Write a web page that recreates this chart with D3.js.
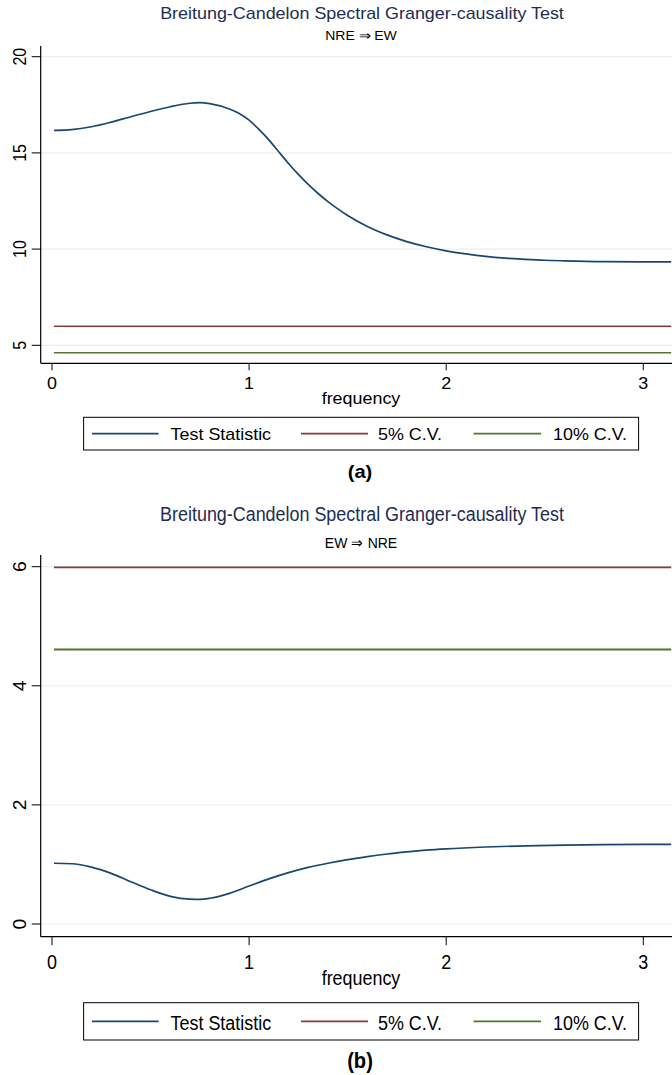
<!DOCTYPE html>
<html>
<head>
<meta charset="utf-8">
<script src="https://cdn.jsdelivr.net/npm/d3@7"></script>
<style>
  html, body { margin: 0; padding: 0; background: #fff; }
  svg { display: block; }
  text { font-family: "Liberation Sans", Arial, sans-serif; }
</style>
</head>
<body>
<svg id="chart" width="672" height="1075"></svg>
<script>
// ---------------- DATA ----------------
const titleText = "Breitung-Candelon Spectral Granger-causality Test";
const subtitleA = "NRE \u21D2 EW";
const subtitleB = "EW \u21D2 NRE";
const xAxisTitle = "frequency";
const legendLabels = ["Test Statistic", "5% C.V.", "10% C.V."];
const captionA = "(a)";
const captionB = "(b)";

const xTicks = [0, 1, 2, 3];
const yTicksA = [5, 10, 15, 20];
const yTicksB = [0, 2, 4, 6];

const cv5 = 5.99;
const cv10 = 4.61;
const freqRange = [0.01, 3.1416];

// Panel (a): NRE => EW test statistic
const freqA = [0.01, 0.1, 0.2, 0.3, 0.4, 0.5, 0.6, 0.7, 0.75, 0.8, 0.9, 0.95, 1.0, 1.05, 1.1, 1.15, 1.2, 1.25, 1.3, 1.35, 1.4, 1.45, 1.5, 1.6, 1.7, 1.8, 1.9, 2.0, 2.1, 2.2, 2.3, 2.4, 2.5, 2.6, 2.8, 3.0, 3.1416];
const statA = [16.17, 16.21, 16.36, 16.6, 16.88, 17.15, 17.4, 17.58, 17.61, 17.56, 17.28, 17.05, 16.7, 16.22, 15.68, 15.06, 14.45, 13.88, 13.36, 12.89, 12.47, 12.09, 11.75, 11.18, 10.74, 10.39, 10.12, 9.91, 9.75, 9.62, 9.53, 9.47, 9.42, 9.39, 9.35, 9.34, 9.34];

// Panel (b): EW => NRE test statistic
const freqB = [0.01, 0.1, 0.2, 0.3, 0.4, 0.5, 0.6, 0.7, 0.75, 0.8, 0.9, 1.0, 1.1, 1.2, 1.3, 1.4, 1.5, 1.6, 1.7, 1.8, 1.9, 2.0, 2.2, 2.4, 2.6, 2.8, 3.0, 3.1416];
const statB = [1.02, 1.012, 0.955, 0.85, 0.71, 0.575, 0.465, 0.418, 0.415, 0.432, 0.515, 0.637, 0.757, 0.862, 0.95, 1.02, 1.08, 1.13, 1.175, 1.21, 1.24, 1.262, 1.293, 1.313, 1.326, 1.333, 1.337, 1.338];

// ---------------- STYLE / LAYOUT ----------------
const colors = { stat: "#1a476f", cv5: "#90353b", cv10: "#55752f", title: "#1e2d53", grid: "#e8eff2" };
const SX = 1.12; // horizontal stretch of the original picture

const panels = [
  {
    freq: freqA, stat: statA, yTicks: yTicksA, subtitle: subtitleA, caption: captionA,
    sy: 1.0,
    yDomain: [5, 20], yRange: [345.3, 56.7], axisTop: 46, axisBottom: 363.3,
    titleY: 19, subY: 39.7, tickLabY: 389, xTitleY: 404.2,
    legTop: 417.3, legBot: 450, legTextY: 440, capY: 477.8
  },
  {
    freq: freqB, stat: statB, yTicks: yTicksB, subtitle: subtitleB, caption: captionB,
    sy: 1.21,
    yDomain: [0, 6], yRange: [924, 566.7], axisTop: 555, axisBottom: 936.7,
    titleY: 520.5, subY: 548, tickLabY: 968.6, xTitleY: 985,
    legTop: 1002.7, legBot: 1040, legTextY: 1030.2, capY: 1068.4
  }
];

const svg = d3.select("#chart");
const x = d3.scaleLinear().domain([0, 3]).range([52, 643.3]);
const plotLeft = 40.7, plotRight = 672;

function hText(g, str, px, py, opts) {
  const t = g.append("text")
    .attr("transform", `translate(${px},${py}) scale(${SX},${opts.sy})`)
    .attr("text-anchor", opts.anchor || "middle")
    .attr("font-size", opts.size || 16)
    .attr("fill", opts.fill || "#000")
    .text(str);
  if (opts.family) t.attr("font-family", opts.family);
  if (opts.weight) t.attr("font-weight", opts.weight);
  return t;
}

panels.forEach(p => {
  const g = svg.append("g");
  const y = d3.scaleLinear().domain(p.yDomain).range(p.yRange);

  // grid lines
  g.selectAll(".grid").data(p.yTicks).join("line")
    .attr("x1", plotLeft).attr("x2", plotRight)
    .attr("y1", d => y(d)).attr("y2", d => y(d))
    .attr("stroke", colors.grid).attr("stroke-width", 1.2);

  // critical value lines
  const cvLine = v => d3.line().x(d => x(d)).y(() => y(v))(freqRange);
  g.append("path").attr("d", cvLine(cv5)).attr("fill", "none")
    .attr("stroke", colors.cv5).attr("stroke-width", 1.5 * p.sy);
  g.append("path").attr("d", cvLine(cv10)).attr("fill", "none")
    .attr("stroke", colors.cv10).attr("stroke-width", 1.5 * p.sy);

  // test statistic
  const line = d3.line().x((d, i) => x(p.freq[i])).y(d => y(d)).curve(d3.curveMonotoneX);
  g.append("path").attr("d", line(p.stat)).attr("fill", "none")
    .attr("stroke", colors.stat).attr("stroke-width", 1.7);

  // y axis
  g.append("line").attr("x1", plotLeft).attr("x2", plotLeft)
    .attr("y1", p.axisTop).attr("y2", p.axisBottom).attr("stroke", "#000").attr("stroke-width", 1.2);
  g.selectAll(".ytick").data(p.yTicks).join("line")
    .attr("x1", plotLeft - 9).attr("x2", plotLeft)
    .attr("y1", d => y(d)).attr("y2", d => y(d))
    .attr("stroke", "#000").attr("stroke-width", 1);
  g.selectAll(".ylab").data(p.yTicks).join("text")
    .attr("transform", d => `translate(25.5,${y(d)}) rotate(-90) scale(${p.sy},${SX})`)
    .attr("text-anchor", "middle").attr("font-size", 16).attr("fill", "#000")
    .text(d => d);

  // x axis
  g.append("line").attr("x1", plotLeft).attr("x2", plotRight)
    .attr("y1", p.axisBottom).attr("y2", p.axisBottom).attr("stroke", "#000").attr("stroke-width", 1.2);
  g.selectAll(".xtick").data(xTicks).join("line")
    .attr("x1", d => x(d)).attr("x2", d => x(d))
    .attr("y1", p.axisBottom).attr("y2", p.axisBottom + 7 * p.sy)
    .attr("stroke", "#000").attr("stroke-width", 1);
  xTicks.forEach(d => hText(g, String(d), x(d), p.tickLabY, { sy: p.sy }));
  hText(g, xAxisTitle, 361, p.xTitleY, { sy: p.sy });

  // titles
  hText(g, titleText, 362, p.titleY, { sy: p.sy, fill: colors.title });
  hText(g, p.subtitle, 361, p.subY, { sy: p.sy, size: 12.5 });

  // legend
  g.append("rect").attr("x", 83.6).attr("y", p.legTop)
    .attr("width", 638.6 - 83.6).attr("height", p.legBot - p.legTop)
    .attr("fill", "#fff").attr("stroke", "#000").attr("stroke-width", 1);
  const legY = (p.legTop + p.legBot) / 2;
  const legItems = [
    { label: legendLabels[0], color: colors.stat, x0: 92, x1: 158.6, tx: 170.6 },
    { label: legendLabels[1], color: colors.cv5, x0: 301, x1: 368, tx: 378 },
    { label: legendLabels[2], color: colors.cv10, x0: 473.6, x1: 541, tx: 553 }
  ];
  legItems.forEach(it => {
    g.append("line").attr("x1", it.x0).attr("x2", it.x1).attr("y1", legY).attr("y2", legY)
      .attr("stroke", it.color).attr("stroke-width", 1.6);
    hText(g, it.label, it.tx, p.legTextY, { sy: p.sy, anchor: "start" });
  });

  // caption
  hText(g, p.caption, 360, p.capY, { sy: p.sy, size: 18, weight: "bold", family: "'Liberation Serif', 'Times New Roman', serif" });
});
</script>
</body>
</html>
